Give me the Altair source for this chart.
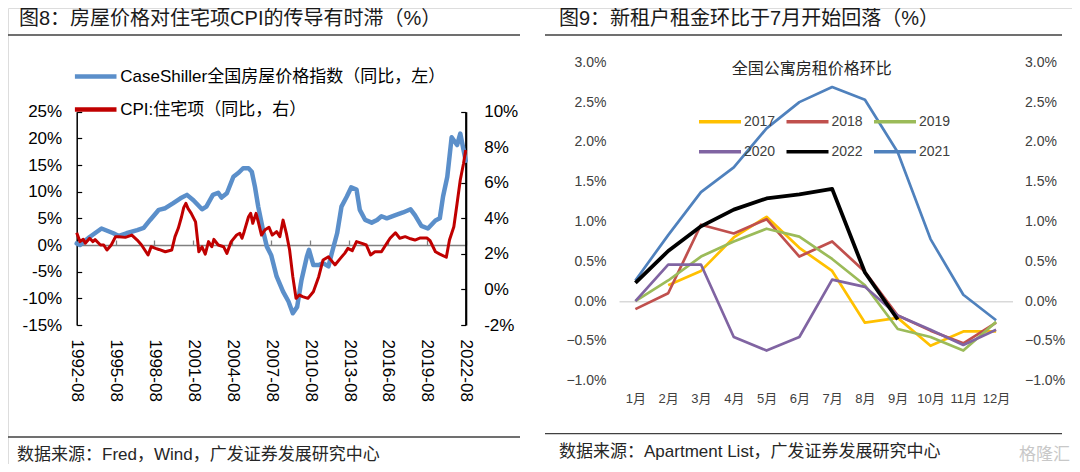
import altair as alt
import pandas as pd

FONT = "Liberation Sans, Noto Sans CJK SC"

# ======================= Figure 8 (left panel) =======================
TITLE_L = "图8：房屋价格对住宅项CPI的传导有时滞（%）"
SOURCE_L = "数据来源：Fred，Wind，广发证券发展研究中心"
CS_NAME = "CaseShiller全国房屋价格指数（同比，左）"
CPI_NAME = "CPI:住宅项（同比，右）"

cs_dates = [
    "1992-08", "1992-11", "1993-08", "1994-07", "1995-06", "1995-11", "1996-06", "1997-04",
    "1997-10", "1998-04", "1998-12", "1999-06", "2000-01", "2000-08", "2001-02", "2001-08",
    "2002-04", "2002-08", "2003-02", "2003-07", "2003-10", "2004-03", "2004-09", "2005-02",
    "2005-06", "2005-11", "2006-02", "2006-05", "2006-08", "2007-01", "2007-04", "2007-08",
    "2008-01", "2008-07", "2008-12", "2009-04", "2009-08", "2009-12", "2010-05", "2010-07",
    "2010-11", "2011-04", "2011-08", "2012-01", "2012-04", "2012-09", "2013-01", "2013-06",
    "2013-10", "2014-03", "2014-06", "2014-11", "2015-05", "2015-10", "2016-02", "2016-07",
    "2017-03", "2017-10", "2018-05", "2018-09", "2019-03", "2019-09", "2020-04", "2020-08",
    "2020-11", "2021-03", "2021-07", "2021-12", "2022-03", "2022-08",
]
cs_values = [
    0.3, 0.0, 1.5, 3.1, 2.2, 1.7, 2.2, 2.8,
    3.2, 4.7, 6.6, 6.9, 7.8, 8.75, 9.4, 8.4,
    6.7, 7.2, 9.4, 9.8, 8.9, 9.7, 12.8, 13.6,
    14.4, 14.4, 13.75, 10.9, 7.2, 2.2, -0.3, -1.9,
    -5.9, -8.75, -10.6, -12.8, -11.6, -6.6, -2.2, -0.9,
    -3.75, -3.75, -3.4, -4.0, -1.6, 2.2, 7.2, 9.1,
    10.8, 10.4, 6.6, 4.7, 4.2, 4.7, 5.4, 5.0,
    5.6, 6.1, 6.7, 5.6, 3.6, 3.1, 4.6, 5.0,
    9.1, 12.8, 20.2, 18.75, 20.9, 15.8,
]

cpi_dates = [
    "1992-08", "1992-11", "1993-02", "1993-04", "1993-08", "1993-11", "1994-01", "1994-06",
    "1994-09", "1994-12", "1995-04", "1995-08", "1995-11", "1996-05", "1996-11", "1997-04",
    "1997-08", "1998-02", "1998-05", "1998-09", "1998-12", "1999-06", "1999-12", "2000-03",
    "2000-06", "2000-09", "2000-11", "2001-01", "2001-03", "2001-06", "2001-10", "2002-01",
    "2002-04", "2002-07", "2002-10", "2003-01", "2003-03", "2003-07", "2003-12", "2004-03",
    "2004-07", "2004-12", "2005-03", "2005-05", "2005-07", "2005-11", "2006-01", "2006-03",
    "2006-06", "2006-08", "2006-11", "2007-02", "2007-06", "2007-09", "2008-01", "2008-04",
    "2008-07", "2008-10", "2009-01", "2009-04", "2009-07", "2009-10", "2010-01", "2010-06",
    "2010-11", "2011-04", "2011-08", "2012-01", "2012-02", "2012-07", "2012-12", "2013-04",
    "2013-07", "2013-11", "2014-03", "2014-08", "2014-12", "2015-04", "2015-08", "2016-02",
    "2016-07", "2016-10", "2017-03", "2017-07", "2017-12", "2018-05", "2018-09", "2019-02",
    "2019-08", "2019-11", "2020-04", "2020-08", "2021-02", "2021-05", "2021-09", "2021-12",
    "2022-03", "2022-06", "2022-08",
]
cpi_values = [
    3.19, 2.69, 2.82, 2.6, 2.88, 2.69, 2.8, 2.5,
    2.5, 2.22, 2.5, 2.97, 2.97, 2.93, 3.06, 2.78,
    2.5, 1.94, 2.41, 2.31, 2.25, 2.12, 2.22, 2.97,
    3.44, 4.09, 4.6, 4.84, 4.56, 4.28, 3.8, 2.12,
    2.4, 1.99, 2.69, 2.4, 2.82, 2.5, 2.4, 2.03,
    2.69, 3.06, 3.16, 2.88, 3.25, 4.09, 4.28, 3.72,
    4.28, 3.81, 3.06, 3.34, 3.5, 3.06, 3.25, 2.97,
    3.9, 3.16, 2.22, 0.72, -0.5, -0.31, -0.4, -0.5,
    -0.13, 0.72, 1.66, 1.84, 1.75, 1.38, 1.75, 2.03,
    2.31, 2.18, 2.69, 2.59, 2.5, 1.94, 2.12, 2.12,
    2.6, 2.88, 3.19, 2.88, 2.97, 2.85, 2.78, 2.9,
    2.9, 2.74, 2.12, 1.99, 1.81, 2.78, 3.53, 4.84,
    6.16, 7.09, 7.84,
]

x_tick_labels = ["1992-08", "1995-08", "1998-08", "2001-08", "2004-08", "2007-08",
                 "2010-08", "2013-08", "2016-08", "2019-08", "2022-08"]
cs_ticks = [-15, -10, -5, 0, 5, 10, 15, 20, 25]
cpi_ticks = [-2, 0, 2, 4, 6, 8, 10]

# ======================= Figure 9 (right panel) =======================
TITLE_R = "图9：新租户租金环比于7月开始回落（%）"
SUBTITLE_R = "全国公寓房租价格环比"
SOURCE_R = "数据来源：Apartment List，广发证券发展研究中心"
WATERMARK = "格隆汇"

months = ["1月", "2月", "3月", "4月", "5月", "6月", "7月", "8月", "9月", "10月", "11月", "12月"]
rent_2017 = [None, 0.20, 0.38, 0.80, 1.06, 0.67, 0.38, -0.27, -0.21, -0.56, -0.38, -0.38]
rent_2018 = [-0.10, 0.10, 0.96, 0.85, 1.03, 0.56, 0.75, 0.37, -0.18, -0.37, -0.53, -0.27]
rent_2019 = [0.0, 0.26, 0.56, 0.75, 0.91, 0.81, 0.53, 0.20, -0.35, -0.45, -0.62, -0.26]
rent_2020 = [0.0, 0.46, 0.46, -0.45, -0.62, -0.45, 0.27, 0.18, -0.18, -0.36, -0.55, -0.36]
rent_2021 = [0.26, 0.83, 1.37, 1.68, 2.17, 2.50, 2.69, 2.53, 1.87, 0.78, 0.08, -0.24]
rent_2022 = [0.23, 0.63, 0.94, 1.15, 1.29, 1.34, 1.41, 0.36, -0.23, None, None, None]
rent_ticks = [-1.0, -0.5, 0.0, 0.5, 1.0, 1.5, 2.0, 2.5, 3.0]
legend_years = ["2017", "2018", "2019", "2020", "2022", "2021"]
legend_colors = ["#FFC000", "#C0504D", "#9BBB59", "#8064A2", "#000000", "#4F81BD"]

# ======================= layout (pixels inside the chart) =======================
W, H = 1064, 456
XL0, XL1 = 68.7, 457.7          # left panel plot x-extent
YL_BOT, YL_TOP = 317.0, 103.7   # left panel plot y-extent
XR0, XR1 = 611.0, 1004.5        # right panel plot x-extent
YR_BOT, YR_TOP = 372.8, 54.3    # right panel plot y-extent
BLUE, RED = "#5B8FCA", "#C00000"


def dt(s):
    y, m = s.split("-")
    return alt.DateTime(year=int(y), month=int(m), date=1, utc=True)


df_cs = pd.DataFrame({"date": [d + "-01" for d in cs_dates], "value": cs_values, "series": CS_NAME})
df_cpi = pd.DataFrame({"date": [d + "-01" for d in cpi_dates], "value": cpi_values, "series": CPI_NAME})

rent_series = [("2021", rent_2021), ("2017", rent_2017), ("2018", rent_2018),
               ("2019", rent_2019), ("2020", rent_2020)]
rows = [(m, yr, v) for yr, vals in rent_series for m, v in zip(months, vals) if v is not None]
df_rent = pd.DataFrame(rows, columns=["month", "year", "value"])
df_2022 = pd.DataFrame([(m, "2022", v) for m, v in zip(months, rent_2022) if v is not None],
                       columns=["month", "year", "value"])

x_ticks_dt = [dt(s) for s in x_tick_labels]
x_left = alt.Scale(type="utc", domain=[dt(x_tick_labels[0]), dt(x_tick_labels[-1])], range=[XL0, XL1])
y_cs = alt.Scale(domain=[cs_ticks[0], cs_ticks[-1]], range=[YL_BOT, YL_TOP], nice=False, zero=False)
y_cpi = alt.Scale(domain=[cpi_ticks[0], cpi_ticks[-1]], range=[YL_BOT, YL_TOP], nice=False, zero=False)
ZERO_L = YL_BOT - (0 - cs_ticks[0]) / (cs_ticks[-1] - cs_ticks[0]) * (YL_BOT - YL_TOP)
series_color = alt.Scale(domain=[CS_NAME, CPI_NAME], range=[BLUE, RED])

x_right = alt.Scale(type="point", domain=months, range=[XR0, XR1], padding=0.5)
y_rent = alt.Scale(domain=[rent_ticks[0], rent_ticks[-1]], range=[YR_BOT, YR_TOP], nice=False, zero=False)
ZERO_R = YR_BOT - (0 - rent_ticks[0]) / (rent_ticks[-1] - rent_ticks[0]) * (YR_BOT - YR_TOP)

common_axis = dict(grid=False, title=None, labelFont=FONT, labelOverlap=False, labelFlush=False, labelBound=False)

# ---------- left panel layers ----------
blue = alt.Chart(df_cs).mark_line(strokeWidth=4.5, strokeJoin="round", strokeCap="round").encode(
    x=alt.X("date:T", scale=x_left, axis=alt.Axis(
        orient="top", offset=-ZERO_L, values=x_ticks_dt, labels=False, ticks=True, tickSize=5,
        tickColor="#808080", tickWidth=1.3, domainColor="#808080", domainWidth=1.5, **common_axis)),
    y=alt.Y("value:Q", scale=y_cs, axis=alt.Axis(
        orient="left", offset=-XL0, values=cs_ticks, labelExpr="datum.value + '%'", ticks=False,
        domainColor="black", domainWidth=1.5, labelPadding=15, labelFontSize=17, labelColor="black",
        **common_axis)),
    color=alt.Color("series:N", scale=series_color, legend=alt.Legend(
        orient="none", legendX=XL0 - 4.5, legendY=45, direction="vertical", title=None,
        symbolType="stroke", symbolSize=1730, symbolStrokeWidth=4.5, labelFontSize=17,
        labelFont=FONT, labelColor="black", labelLimit=600, labelOffset=1, rowPadding=-12.5, padding=0)),
)

red = alt.Chart(df_cpi).mark_line(strokeWidth=3, strokeJoin="round").encode(
    x=alt.X("date:T", scale=x_left, axis=alt.Axis(
        orient="bottom", offset=YL_BOT - H, values=x_ticks_dt,
        labelExpr="utcFormat(datum.value, '%Y-%m')",
        labelAngle=90, labelFontSize=17, labelColor="black", ticks=False, domain=False,
        labelPadding=14, **common_axis)),
    y=alt.Y("value:Q", scale=y_cpi, axis=alt.Axis(
        orient="right", offset=XL1 - W, values=cpi_ticks, labelExpr="datum.value + '%'", ticks=False,
        domainColor="black", domainWidth=2.2, labelPadding=18, labelFontSize=17, labelColor="black",
        **common_axis)),
    color=alt.Color("series:N", scale=series_color, legend=None),
)

# inward tick marks of the two y axes
ticks_cs = alt.Chart(df_cs).mark_line(opacity=0).encode(
    x=alt.X("date:T", scale=x_left, axis=None),
    y=alt.Y("value:Q", scale=y_cs, axis=alt.Axis(
        orient="right", offset=XL0 - W, values=cs_ticks, labels=False, domain=False, ticks=True,
        tickSize=5, tickColor="black", tickWidth=1.2, **common_axis)),
)
ticks_cpi = alt.Chart(df_cpi).mark_line(opacity=0).encode(
    x=alt.X("date:T", scale=x_left, axis=None),
    y=alt.Y("value:Q", scale=y_cpi, axis=alt.Axis(
        orient="left", offset=-XL1, values=cpi_ticks, labels=False, domain=False, ticks=True,
        tickSize=5, tickColor="black", tickWidth=1.2, **common_axis)),
)

# ---------- right panel layers ----------
rent_lines = alt.Chart(df_rent).mark_line(strokeWidth=2.7, strokeJoin="round").encode(
    x=alt.X("month:O", scale=x_right, sort=months, axis=alt.Axis(
        orient="bottom", offset=YR_BOT - H, labelAngle=0, labelFontSize=13, labelColor="#404040",
        ticks=False, domain=False, labelPadding=12, **common_axis)),
    y=alt.Y("value:Q", scale=y_rent, axis=alt.Axis(
        orient="left", offset=-XR0, values=rent_ticks, labelExpr="format(datum.value, '.1f') + '%'",
        ticks=False, domain=False, labelPadding=13, labelFontSize=14, labelColor="#404040",
        **common_axis)),
    color=alt.Color("year:N", scale=alt.Scale(domain=legend_years, range=legend_colors), legend=alt.Legend(
        orient="none", legendX=689, legendY=90.8, columns=3, direction="horizontal", title=None,
        symbolType="stroke", symbolSize=1764, symbolStrokeWidth=3.5, labelFontSize=14, labelFont=FONT,
        labelColor="#404040", labelOffset=1, columnPadding=3.5, rowPadding=-16.5, padding=0,
        labelLimit=200)),
)

black = alt.Chart(df_2022).mark_line(strokeWidth=3.8, color="#000000", strokeJoin="round").encode(
    x=alt.X("month:O", scale=x_right, sort=months, axis=alt.Axis(
        orient="top", offset=-ZERO_R, labels=False, ticks=False, domainColor="#D9D9D9",
        domainWidth=1.5, **common_axis)),
    y=alt.Y("value:Q", scale=y_rent, axis=alt.Axis(
        orient="right", offset=XR1 - W, values=rent_ticks, labelExpr="format(datum.value, '.1f') + '%'",
        ticks=False, domain=False, labelPadding=12, labelFontSize=14, labelColor="#404040",
        **common_axis)),
)


# ---------- decorations: titles, rules, source notes ----------
def text_layer(text, x, y, size, color="#1A1A1A", align="left"):
    return alt.Chart(pd.DataFrame({"t": [text]})).mark_text(
        align=align, baseline="middle", fontSize=size, font=FONT, color=color
    ).encode(x=alt.value(x), y=alt.value(y), text="t:N")


def rule_layer(x0, x1, y, color="#404040", width=1.3):
    return alt.Chart(pd.DataFrame({"r": [0]})).mark_rule(color=color, strokeWidth=width).encode(
        x=alt.value(x0), x2=alt.value(x1), y=alt.value(y))


decor = [
    text_layer(TITLE_L, 11, 10.5, 20),
    text_layer(TITLE_R, 551, 10.5, 20),
    rule_layer(0, 512, 27),
    rule_layer(537, 1054, 27),
    rule_layer(0, 512, 429),
    rule_layer(537, 1054, 425.6),
    text_layer(SOURCE_L, 9, 447, 17, color="#262626"),
    text_layer(SOURCE_R, 551, 444, 17, color="#262626"),
    text_layer(SUBTITLE_R, 803.7, 61, 16, color="#262626", align="center"),
    text_layer(WATERMARK, 1062, 447, 17, color="#C8C8C8", align="right"),
]

chart = alt.layer(
    ticks_cs, ticks_cpi, blue, red, rent_lines, black, *decor
).resolve_scale(
    x="independent", y="independent", color="independent"
).properties(
    width=W, height=H, autosize=alt.AutoSizeParams(type="none"), padding=0, background="white"
).configure_view(stroke=None).configure(font=FONT)

chart.save("out.html", embed_options={"renderer": "svg", "actions": False})
